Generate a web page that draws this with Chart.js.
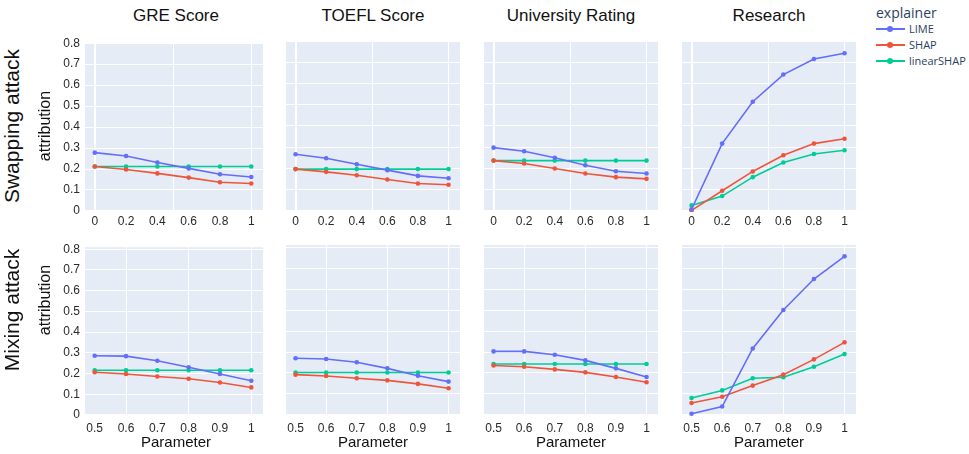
<!DOCTYPE html>
<html>
<head>
<meta charset="utf-8">
<script src="https://cdn.jsdelivr.net/npm/chart.js@4.4.0/dist/chart.umd.min.js"></script>
<style>
  body { margin: 0; background: #fff; }
  #wrap { position: relative; width: 969px; height: 454px; overflow: hidden; font-family: "Liberation Sans", Arial, sans-serif; }
  .box { position: absolute; }
  .txt { position: absolute; white-space: nowrap; color: #111; }
  .rot { transform: translate(-50%, -50%) rotate(-90deg); }
  .ctr { transform: translate(-50%, -50%); }
  .leg { position: absolute; font-family: "Open Sans", sans-serif; color: #2a3f5f; white-space: nowrap; }
  .sw { position: absolute; width: 29px; height: 2px; }
  .dot { position: absolute; width: 6px; height: 6px; border-radius: 50%; }
</style>
</head>
<body>
<div id="wrap"></div>
<script>
// facetten: kolommen = feature, rijen = aanval
const features = ['GRE Score', 'TOEFL Score', 'University Rating', 'Research'];
const rowNames = ['Swapping attack', 'Mixing attack'];
const explainers = ['LIME', 'SHAP', 'linearSHAP'];
const colors = ['#636efa', '#EF553B', '#00cc96'];

const paramSwap = [0, 0.2, 0.4, 0.6, 0.8, 1];
const paramMix = [0.5, 0.6, 0.7, 0.8, 0.9, 1];
const yTicks = [0, 0.1, 0.2, 0.3, 0.4, 0.5, 0.6, 0.7, 0.8];

// Swapping attack
const swapLime = [
    [0.278, 0.262, 0.231, 0.203, 0.175, 0.162],
    [0.267, 0.248, 0.220, 0.192, 0.165, 0.154],
    [0.298, 0.281, 0.250, 0.215, 0.187, 0.176],
    [0.008, 0.317, 0.514, 0.642, 0.715, 0.742]
];
const swapShap = [
    [0.212, 0.198, 0.179, 0.159, 0.137, 0.131],
    [0.197, 0.184, 0.168, 0.148, 0.129, 0.123],
    [0.237, 0.223, 0.200, 0.176, 0.159, 0.151],
    [0.003, 0.095, 0.186, 0.262, 0.317, 0.340]
];
const swapLin = [
    [0.212, 0.212, 0.212, 0.212, 0.212, 0.212],
    [0.197, 0.197, 0.197, 0.197, 0.197, 0.197],
    [0.237, 0.237, 0.237, 0.237, 0.237, 0.237],
    [0.026, 0.070, 0.159, 0.228, 0.268, 0.286]
];

// Mixing attack
const mixLime = [
    [0.286, 0.284, 0.262, 0.230, 0.198, 0.165],
    [0.270, 0.267, 0.251, 0.222, 0.187, 0.159],
    [0.303, 0.303, 0.287, 0.260, 0.222, 0.181],
    [0.006, 0.040, 0.317, 0.500, 0.648, 0.756]
];
const mixShap = [
    [0.206, 0.198, 0.186, 0.175, 0.157, 0.133],
    [0.192, 0.186, 0.175, 0.165, 0.148, 0.127],
    [0.236, 0.230, 0.217, 0.203, 0.181, 0.156],
    [0.057, 0.087, 0.140, 0.192, 0.265, 0.346]
];
const mixLin = [
    [0.216, 0.216, 0.216, 0.216, 0.216, 0.216],
    [0.202, 0.202, 0.202, 0.202, 0.202, 0.202],
    [0.243, 0.243, 0.243, 0.243, 0.243, 0.243],
    [0.081, 0.117, 0.175, 0.180, 0.230, 0.290]
];

// plotgebieden
const colLeft = [85, 282, 480, 678];
const plotW = 182;
const plotH = 171;
const rowTop = [41, 245];
const rows = [
    { params: paramSwap, grid: [0, 0.5, 1], xMin: -0.0625, xMax: 1.075, yMin: -0.005, yMax: 0.8, pad: 2,
      lime: swapLime, shap: swapShap, lin: swapLin },
    { params: paramMix, grid: [0.6, 0.8, 1], xMin: 0.469, xMax: 1.0375, yMin: -0.005, yMax: 0.81, pad: 5,
      lime: mixLime, shap: mixShap, lin: mixLin }
];

const wrap = document.getElementById('wrap');
const tickFont = { family: '"Liberation Sans", Arial, sans-serif', size: 12 };

const bgPlugin = {
    id: 'bg',
    beforeDraw(chart) {
        const a = chart.chartArea;
        const ctx = chart.ctx;
        ctx.save();
        ctx.fillStyle = '#E5ECF6';
        ctx.fillRect(a.left, a.top, a.right - a.left, a.bottom - a.top);
        ctx.restore();
    }
};

function near(list, v) {
    return list.some(g => Math.abs(g - v) < 1e-6);
}

function fmt(v) {
    return String(+v.toFixed(2));
}

function makeChart(r, c) {
    const row = rows[r];
    const yw = c === 0 ? 40 : 0;
    const xh = 27;
    const box = document.createElement('div');
    box.className = 'box';
    box.style.left = (colLeft[c] - yw) + 'px';
    box.style.top = (rowTop[r] - 10) + 'px';
    box.style.width = (plotW + yw) + 'px';
    box.style.height = (plotH + 10 + xh) + 'px';
    const canvas = document.createElement('canvas');
    box.appendChild(canvas);
    wrap.appendChild(box);

    const xTicks = Array.from(new Set(row.params.concat(row.grid))).sort((a, b) => a - b);
    const series = [row.lime[c], row.shap[c], row.lin[c]];

    new Chart(canvas, {
        type: 'line',
        data: {
            datasets: explainers.map((name, i) => ({
                label: name,
                data: row.params.map((p, k) => ({ x: p, y: series[i][k] })),
                borderColor: colors[i],
                backgroundColor: colors[i],
                borderWidth: 1.6,
                pointRadius: 2.3,
                pointBorderWidth: 0,
                tension: 0
            }))
        },
        options: {
            responsive: true,
            maintainAspectRatio: false,
            animation: false,
            layout: { padding: { top: 10, left: 0, right: 0, bottom: 0 } },
            plugins: { legend: { display: false }, tooltip: { enabled: false } },
            scales: {
                x: {
                    type: 'linear',
                    min: row.xMin,
                    max: row.xMax,
                    afterBuildTicks: s => { s.ticks = xTicks.map(v => ({ value: v })); },
                    afterFit: s => { s.height = xh; },
                    border: { display: false },
                    grid: {
                        drawTicks: false,
                        color: ctx => near(row.grid, ctx.tick.value) ? '#ffffff' : 'rgba(0,0,0,0)',
                        lineWidth: ctx => ctx.tick.value === 0 ? 2 : 1
                    },
                    ticks: {
                        padding: row.pad,
                        color: '#2a2a2a',
                        font: tickFont,
                        maxRotation: 0,
                        autoSkip: false,
                        callback: v => near(row.params, v) ? fmt(v) : ''
                    }
                },
                y: {
                    min: row.yMin,
                    max: row.yMax,
                    afterBuildTicks: s => { s.ticks = yTicks.map(v => ({ value: v })); },
                    afterFit: s => { s.width = yw; },
                    border: { display: false },
                    grid: {
                        drawTicks: false,
                        color: '#ffffff',
                        lineWidth: ctx => ctx.tick.value === 0 ? 2 : 1
                    },
                    ticks: {
                        display: c === 0,
                        padding: 5,
                        color: '#2a2a2a',
                        font: tickFont,
                        callback: v => fmt(v)
                    }
                }
            }
        },
        plugins: [bgPlugin]
    });
}

for (let r = 0; r < 2; r++) {
    for (let c = 0; c < 4; c++) {
        makeChart(r, c);
    }
}

function addText(text, x, y, size, cls, color) {
    const d = document.createElement('div');
    d.className = 'txt ' + cls;
    d.textContent = text;
    d.style.left = x + 'px';
    d.style.top = y + 'px';
    d.style.fontSize = size + 'px';
    if (color) d.style.color = color;
    wrap.appendChild(d);
}

// kolomtitels en aslabels
features.forEach((f, c) => {
    addText(f, colLeft[c] + plotW / 2, 16, 17, 'ctr');
    addText('Parameter', colLeft[c] + plotW / 2, 441, 15, 'ctr');
});
addText(rowNames[0], 12, 126, 21, 'rot');
addText(rowNames[1], 12, 310, 21, 'rot');
addText('attribution', 45, 126, 16, 'rot');
addText('attribution', 45, 300, 16, 'rot');

// legenda
const lt = document.createElement('div');
lt.className = 'leg';
lt.textContent = 'explainer';
lt.style.left = '876px';
lt.style.top = '3px';
lt.style.fontSize = '14px';
wrap.appendChild(lt);
explainers.forEach((name, i) => {
    const y = 29 + i * 16;
    const sw = document.createElement('div');
    sw.className = 'sw';
    sw.style.left = '876px';
    sw.style.top = (y - 1) + 'px';
    sw.style.background = colors[i];
    wrap.appendChild(sw);
    const dot = document.createElement('div');
    dot.className = 'dot';
    dot.style.left = '887px';
    dot.style.top = (y - 3) + 'px';
    dot.style.background = colors[i];
    wrap.appendChild(dot);
    const t = document.createElement('div');
    t.className = 'leg';
    t.textContent = name;
    t.style.left = '909px';
    t.style.top = (y - 8) + 'px';
    t.style.fontSize = '11px';
    wrap.appendChild(t);
});
</script>
</body>
</html>
